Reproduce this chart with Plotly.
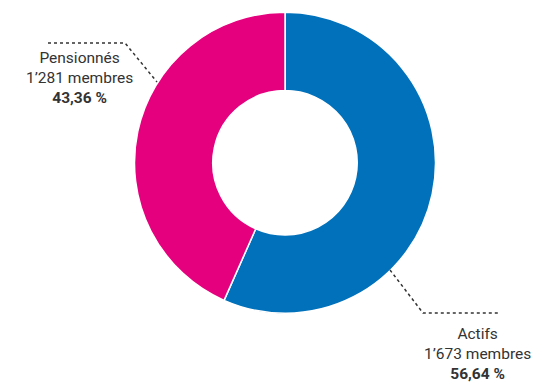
import plotly.graph_objects as go

# Membership split
categories = ["Actifs", "Pensionnés"]
members = [1673, 1281]
shares = [56.64, 43.36]
colors = ["#0071BA", "#E5007E"]

W, H = 540, 385

def px(x):
    return x / W

def py(y):
    return 1 - y / H

fig = go.Figure(go.Pie(
    labels=categories,
    values=members,
    hole=0.48,
    sort=False,
    direction="clockwise",
    rotation=0,
    marker=dict(colors=colors, line=dict(color="white", width=1.5)),
    textinfo="none",
    hoverinfo="label+value+percent",
    domain=dict(x=[px(134.5), px(435.5)], y=[py(313.5), py(12)]),
    showlegend=False,
))

font = dict(family="Roboto", size=15.5, color="#333333")

def label_text(name, count, pct):
    cnt = f"{count:,}".replace(",", "’")
    p = f"{pct:.2f}".replace(".", ",")
    return f"{name}<br>{cnt} membres<br><b>{p} %</b>"

fig.add_annotation(x=px(79), y=py(78), xref="paper", yref="paper",
                   xanchor="center", yanchor="middle",
                   text=label_text(categories[1], members[1], shares[1]),
                   showarrow=False, align="center", font=font)
fig.add_annotation(x=px(477), y=py(354), xref="paper", yref="paper",
                   xanchor="center", yanchor="middle",
                   text=label_text(categories[0], members[0], shares[0]),
                   showarrow=False, align="center", font=font)

dot = dict(color="#333333", width=1.5, dash="dot")
# leader lines
fig.add_shape(type="path", xref="paper", yref="paper",
              path=f"M {px(48)} {py(43)} L {px(125)} {py(43)} L {px(157)} {py(82)}",
              line=dot)
fig.add_shape(type="path", xref="paper", yref="paper",
              path=f"M {px(390)} {py(270)} L {px(423)} {py(313)} L {px(498)} {py(313)}",
              line=dot)

fig.update_layout(width=W, height=H, margin=dict(l=0, r=0, t=0, b=0),
                  paper_bgcolor="white", plot_bgcolor="white")
fig.write_html("out.html")
